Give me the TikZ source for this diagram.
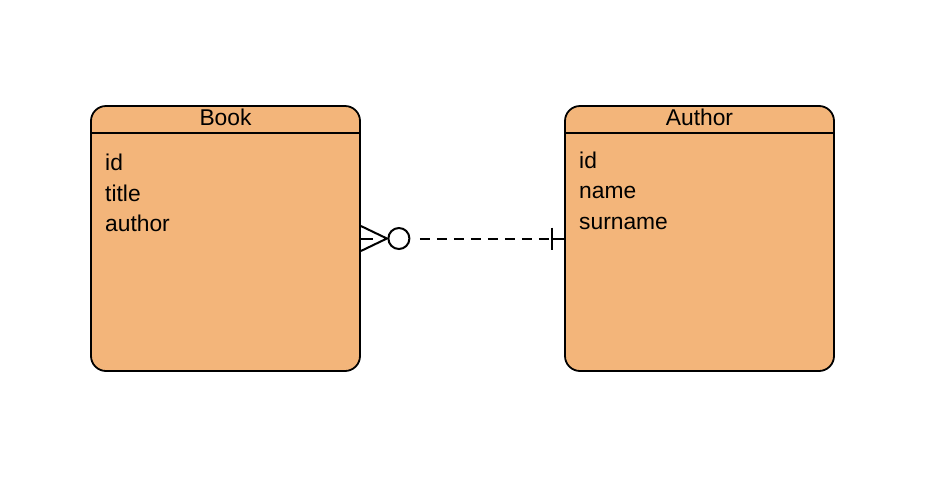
\documentclass[tikz,border=0pt]{standalone}
\usepackage{fontspec}
\setmainfont{Liberation Sans}
\usetikzlibrary{calc}
\definecolor{entfill}{HTML}{F3B57A}
\begin{document}
\begin{tikzpicture}[x=1pt,y=-1pt,
  entity/.style={draw=black,line width=1.8pt,fill=entfill,rounded corners=15pt,
    minimum width=269pt,minimum height=265pt,inner sep=0pt},
  txt/.style={font=\fontsize{22.8}{31}\selectfont,anchor=base west,inner sep=0pt},
  ttl/.style={font=\fontsize{22.8}{31}\selectfont,anchor=base,inner sep=0pt},
  conn/.style={line width=2pt,black}]
\useasboundingbox (0,0) rectangle (935,488);
\node[entity] (book) at (225.5,238.5) {};
\node[entity] (author) at (699.5,238.5) {};
\draw[line width=1.8pt] (book.west |- 0,133) coordinate (bhl) -- (book.east |- 0,133) coordinate (bhr);
\draw[line width=1.8pt] (author.west |- 0,133) coordinate (ahl) -- (author.east |- 0,133) coordinate (ahr);
\node[ttl] (bookt) at (225.5,125.5) {Book};
\node[ttl] (autht) at (699.5,125.5) {Author};
\node[txt] (b1) at (105,170.5) {id};
\node[txt] (b2) at (105,201) {title};
\node[txt] (b3) at (105,231.5) {author};
\node[txt] (a1) at (579,168) {id};
\node[txt] (a2) at (579,198.5) {name};
\node[txt] (a3) at (579,229) {surname};
% connector
\coordinate (tip) at ($(book.east)+(26,0)$);
\node[circle,draw=black,line width=2pt,minimum size=21pt,inner sep=0pt] (ring) at ($(book.east)+(38,0)$) {};
\coordinate (bar) at ($(author.west)+(-12,0)$);
\draw[conn] ($(book.east)+(0,-12.5)$) -- (tip) -- ($(book.east)+(0,12.5)$);
\draw[conn] (book.east) -- ($(book.east)+(12,0)$);
\draw[conn,dash pattern=on 10pt off 7pt] ($(ring.east)+(9.5,0)$) -- (bar);
\draw[conn] ($(bar)+(0,-11)$) -- ($(bar)+(0,11)$);
\draw[conn] (bar) -- (author.west);
\end{tikzpicture}
\end{document}
